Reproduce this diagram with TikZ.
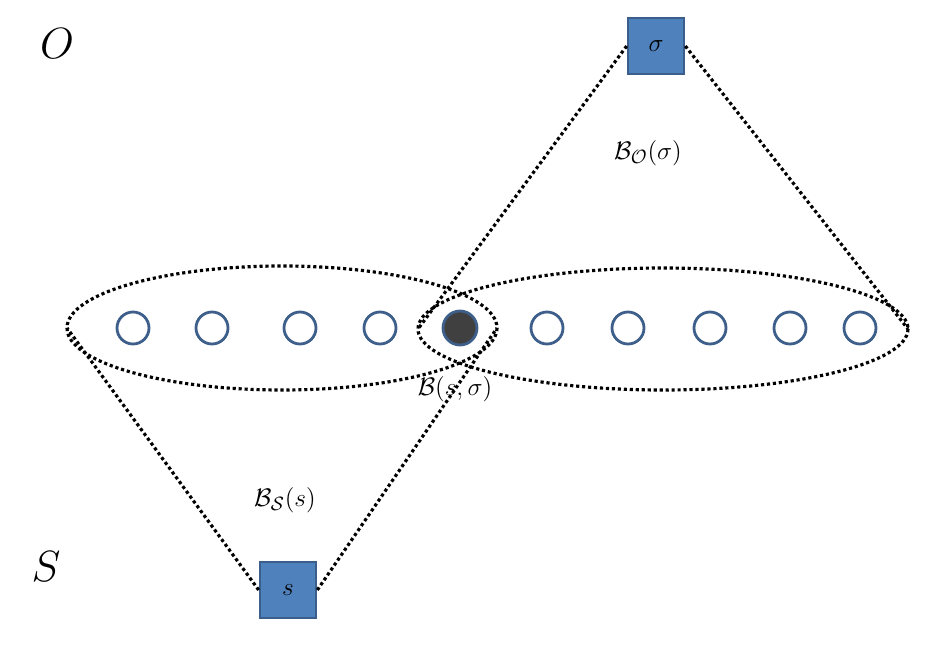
\documentclass[tikz,border=0pt]{standalone}
\usetikzlibrary{calc}
\definecolor{boxfill}{HTML}{4F81BD}
\definecolor{boxline}{HTML}{3A5F8C}
\definecolor{ringline}{HTML}{3E5F8A}
\definecolor{dotfill}{HTML}{404040}
\tikzset{
  px/.style={x=0.02cm,y=-0.02cm},
  dots/.style={line width=1.8pt,dash pattern=on 1.8pt off 1.6pt,black},
  ring/.style={circle,draw=ringline,line width=1.6pt,minimum size=0.64cm,inner sep=0pt},
  filledring/.style={ring,fill=dotfill,minimum size=0.68cm},
  sqbox/.style={rectangle,draw=boxline,line width=1.5pt,fill=boxfill,minimum size=1.12cm,inner sep=0pt,font=\Large},
  biglabel/.style={font=\fontsize{31}{36}\selectfont},
  setlabel/.style={font=\fontsize{15}{18}\selectfont}
}
\begin{document}
\begin{tikzpicture}[px]
\useasboundingbox (0,0) rectangle (930,656);
% ellipses
\draw[dots] (282,328) ellipse [x radius=215, y radius=62];
\draw[dots] (663,329) ellipse [x radius=245, y radius=61];
\coordinate (LL) at (67,328);
\coordinate (LR) at (497,328);
\coordinate (RL) at (418,329);
\coordinate (RR) at (908,329);
% circles
\foreach \x/\n in {133/c1,212/c2,300/c3,380/c4,547/c6,628/c7,710/c8,790/c9,860/c10}
  \node[ring] (\n) at (\x,328) {};
\node[filledring] (c5) at (460,328) {};
% boxes
\node[sqbox] (o) at (656,46) {$\sigma$};
\node[sqbox] (s) at (288,590) {$s$};
% cone lines
\draw[dots] (o.west) -- (RL);
\draw[dots] (o.east) -- (RR);
\draw[dots] (s.west) -- (LL);
\draw[dots] (s.east) -- (LR);
% labels
\node[biglabel] (O) at (57,44) {$O$};
\node[biglabel] (S) at (46,567) {$S$};
\node[setlabel] (BO) at (648,153) {$\mathcal{B}_{\mathcal{O}}(\sigma)$};
\node[setlabel] (BSO) at (455,389) {$\mathcal{B}(s,\sigma)$};
\node[setlabel] (BS) at (285,500) {$\mathcal{B}_{\mathcal{S}}(s)$};
\end{tikzpicture}
\end{document}
